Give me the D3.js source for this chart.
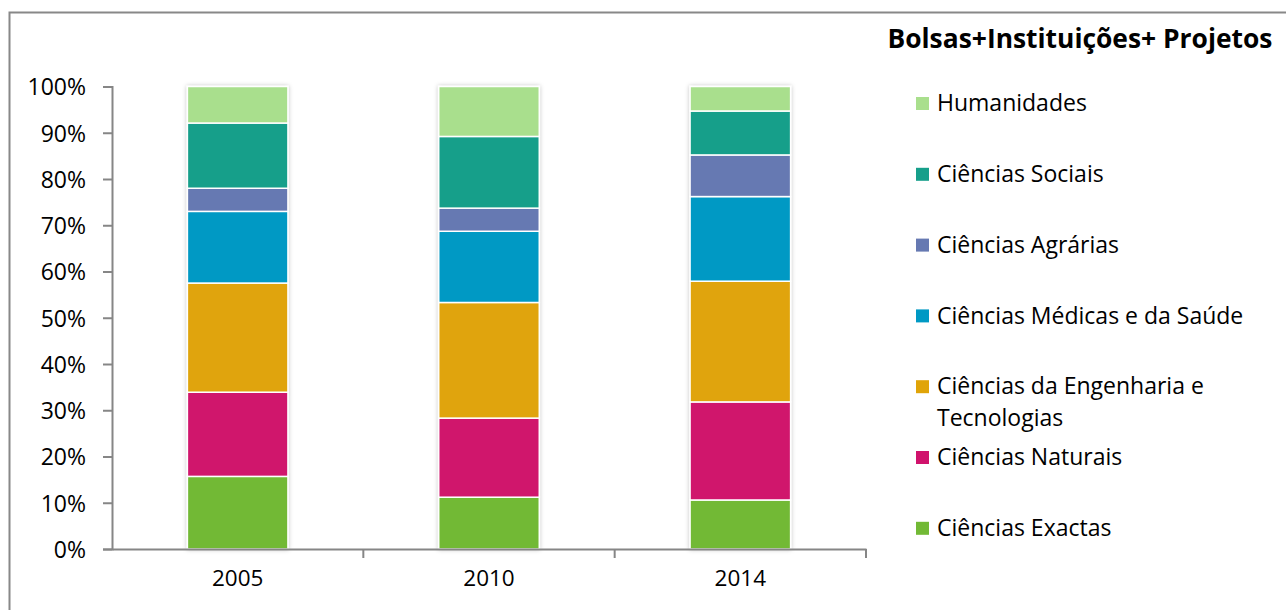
<!DOCTYPE html>
<html lang="pt">

<head>
    <meta charset="UTF-8">
    <title>Bolsas+Instituições+ Projetos</title>
    <script src="https://d3js.org/d3.v7.min.js"></script>
    <style>
        body { margin: 0; background: #fff; }
        text { font-family: "Open Sans", sans-serif; fill: #000; }
    </style>
</head>

<body>
    <svg width="1286" height="610"></svg>
    <script>
        // data (shares in %, bottom of the stack first)
        const years = ["2005", "2010", "2014"]
        const categories = [
            "Ciências Exactas",
            "Ciências Naturais",
            "Ciências da Engenharia e Tecnologias",
            "Ciências Médicas e da Saúde",
            "Ciências Agrárias",
            "Ciências Sociais",
            "Humanidades"
        ]
        const exactas = [15.7, 11.2, 10.6]
        const naturais = [18.2, 17.1, 21.2]
        const engenharia = [23.6, 25.0, 26.1]
        const medicas = [15.5, 15.4, 18.3]
        const agrarias = [5.0, 5.0, 9.0]
        const sociais = [14.1, 15.5, 9.5]
        const humanidades = [7.9, 10.8, 5.3]
        const colors = ["#72b935", "#d0126c", "#e0a408", "#0099c4", "#6679b2", "#169f8a", "#a9df8d"]

        let series_values = [exactas, naturais, engenharia, medicas, agrarias, sociais, humanidades]
        let table = years.map(function (y, i) {
            let row = { year: y }
            categories.forEach(function (c, k) { row[c] = series_values[k][i] })
            return row
        })
        let stacked = d3.stack().keys(categories).offset(d3.stackOffsetExpand)(table)

        let svg = d3.select("svg")

        // outer frame
        svg.append("rect")
            .attr("x", 9.5).attr("y", 12.5)
            .attr("width", 1300).attr("height", 700)
            .attr("fill", "none")
            .attr("stroke", "#888").attr("stroke-width", 2)

        let defs = svg.append("defs")
        defs.append("filter").attr("id", "shadow")
            .attr("x", "-20%").attr("y", "-5%").attr("width", "140%").attr("height", "110%")
            .append("feDropShadow")
            .attr("dx", 0).attr("dy", 0).attr("stdDeviation", 2)
            .attr("flood-color", "#000").attr("flood-opacity", 0.25)

        let x = d3.scaleBand().domain(years).range([112, 866])
            .paddingInner(0.6).paddingOuter(0.3)
        let y = d3.scaleLinear().domain([0, 1]).range([549, 86.5])

        // bars
        let bars = svg.append("g").attr("filter", "url(#shadow)")
        bars.selectAll("g")
            .data(stacked)
            .join("g")
            .attr("fill", function (d, i) { return colors[i] })
            .selectAll("rect")
            .data(function (d) { return d })
            .join("rect")
            .attr("x", function (d) { return x(d.data.year) })
            .attr("y", function (d) { return y(d[1]) })
            .attr("width", x.bandwidth())
            .attr("height", function (d) { return y(d[0]) - y(d[1]) })
            .attr("stroke", "#fff")
            .attr("stroke-width", 1.5)

        // y axis
        let yAxis = svg.append("g")
            .attr("transform", "translate(112,0)")
            .call(d3.axisLeft(y).ticks(10).tickFormat(d3.format(".0%")).tickSize(9).tickPadding(17))
        yAxis.select(".domain").attr("stroke", "#868686").attr("stroke-width", 2)
        yAxis.selectAll(".tick line").attr("stroke", "#868686").attr("stroke-width", 2)
        yAxis.selectAll(".tick text")
            .style("font-family", "'Open Sans', sans-serif")
            .style("font-size", "23px")
            .attr("fill", "#000")
            .attr("dy", "0.36em")

        // x axis
        let xAxis = svg.append("g")
            .attr("transform", "translate(0,549)")
            .call(d3.axisBottom(x).tickSize(0).tickPadding(21))
        xAxis.select(".domain").attr("stroke", "#868686").attr("stroke-width", 2)
        xAxis.selectAll(".tick text")
            .style("font-family", "'Open Sans', sans-serif")
            .style("font-size", "22.5px")
            .attr("fill", "#000")
        let bounds = years.map(function (d, i) { return 112 + x.step() * (i + 1) })
        xAxis.selectAll(".bound")
            .data(bounds)
            .join("line")
            .attr("x1", function (d) { return d }).attr("x2", function (d) { return d })
            .attr("y1", 0).attr("y2", 9)
            .attr("stroke", "#868686").attr("stroke-width", 2)

        // title
        svg.append("text")
            .attr("x", 1080).attr("y", 48)
            .attr("text-anchor", "middle")
            .style("font-size", "26.4px")
            .style("font-weight", "bold")
            .text("Bolsas+Instituições+ Projetos")

        // legend (top = last series)
        let legend_items = categories.slice().reverse()
        let legend_colors = colors.slice().reverse()
        let legend = svg.append("g")
        let item = legend.selectAll("g")
            .data(legend_items)
            .join("g")
            .attr("transform", function (d, i) { return `translate(916,${103 + i * 70.8})` })
        item.append("rect")
            .attr("x", 0).attr("y", -6)
            .attr("width", 13).attr("height", 13)
            .attr("fill", function (d, i) { return legend_colors[i] })
        item.append("text")
            .attr("x", 21).attr("y", 0)
            .attr("dy", "0.36em")
            .style("font-size", "23px")
            .each(function (d) {
                let t = d3.select(this)
                if (d === "Ciências da Engenharia e Tecnologias") {
                    t.append("tspan").attr("x", 21).text("Ciências da Engenharia e")
                    t.append("tspan").attr("x", 21).attr("dy", 32).text("Tecnologias")
                } else {
                    t.text(d)
                }
            })
    </script>
</body>

</html>
